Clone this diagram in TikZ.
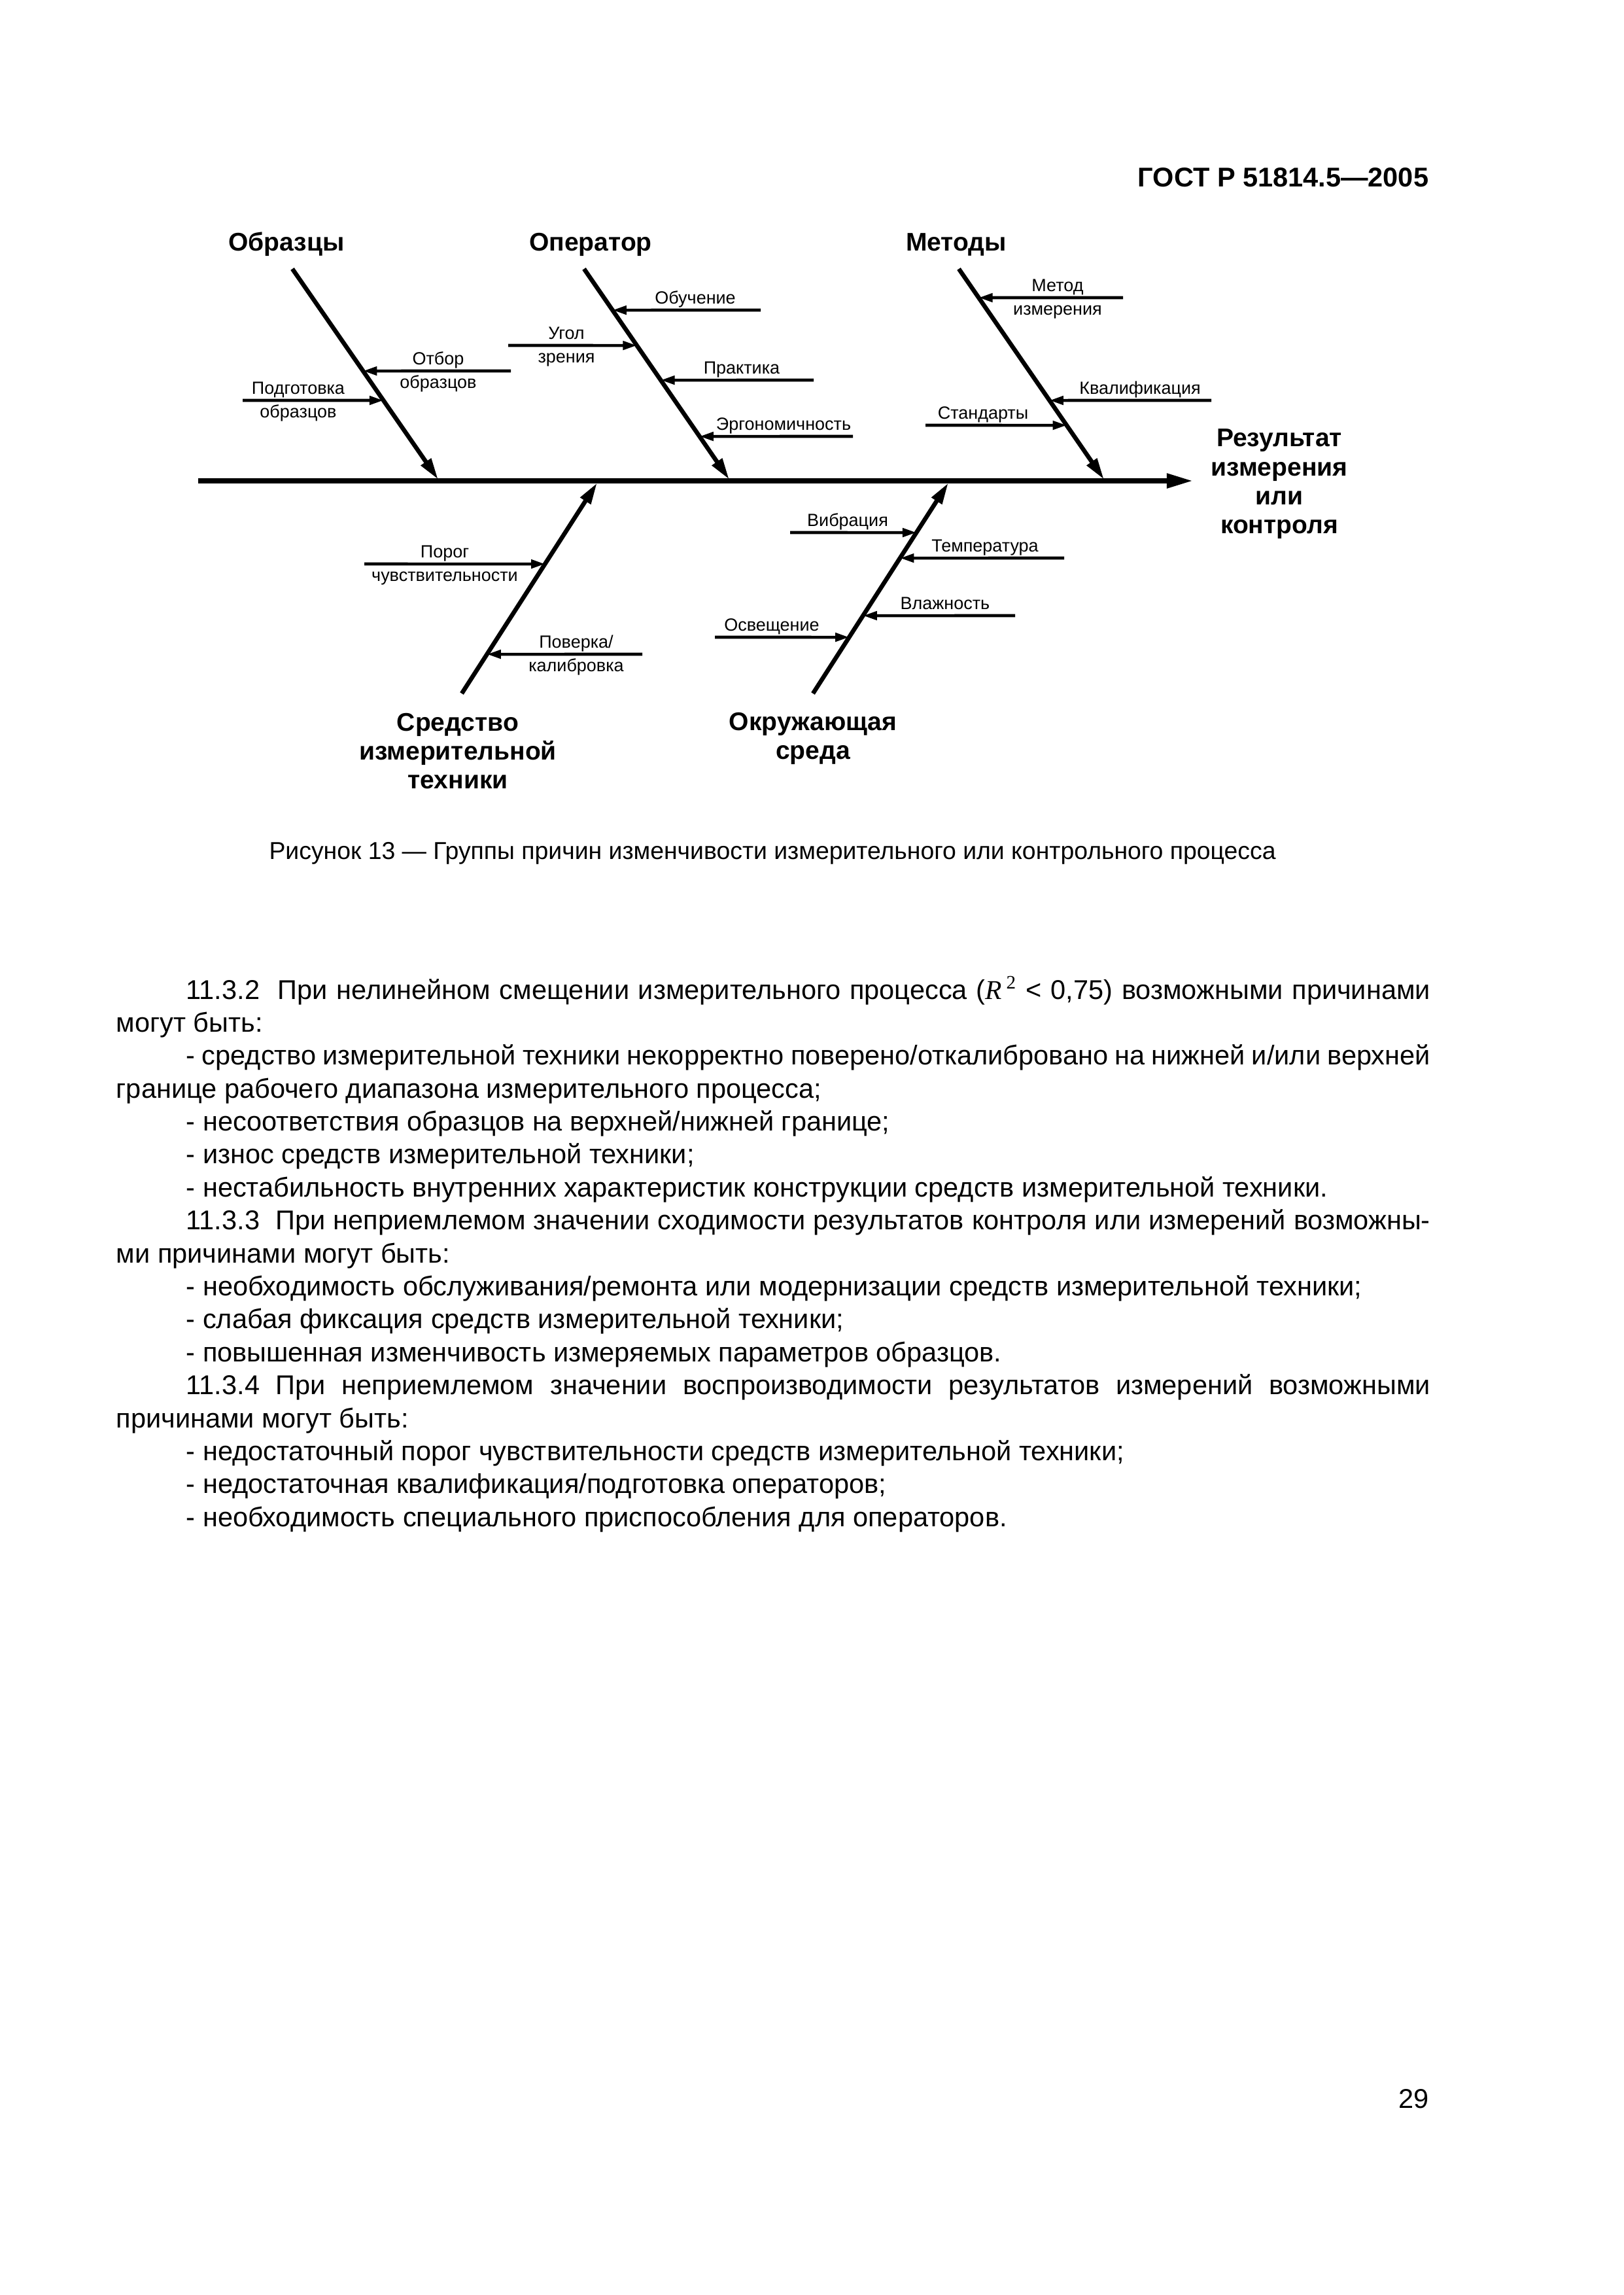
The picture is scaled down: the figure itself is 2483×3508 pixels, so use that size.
\documentclass[tikz,border=0pt]{standalone}
\usepackage{fontspec}
\setmainfont{Liberation Sans}
\newfontfamily\timesfont{Liberation Serif}
\usetikzlibrary{arrows.meta,calc}
\tikzset{
  spine/.style   = {line width=1.8pt, -{Triangle[length=3.4mm,width=1.8mm]}},
  bone/.style    = {line width=1.6pt, -{Triangle[length=2.8mm,width=1.5mm]}},
  rib/.style     = {line width=1.1pt, -{Triangle[length=1.8mm,width=1.1mm]}},
  group/.style   = {font=\fontsize{9.4}{10.7}\selectfont\bfseries, align=center, inner sep=0pt, anchor=north},
  grouph/.style  = {font=\fontsize{9.4}{10.7}\selectfont\bfseries, inner sep=0pt, anchor=base},
  cause/.style   = {font=\fontsize{6.5}{7.5}\selectfont, inner sep=0pt, anchor=base},
  pagehdr/.style = {font=\fontsize{10}{12}\selectfont\bfseries, inner sep=0pt, anchor=base east},
  capt/.style    = {font=\fontsize{9}{11}\selectfont, inner sep=0pt, anchor=base},
  bodytxt/.style = {font=\fontsize{10}{12.14}\selectfont, inner sep=0pt, anchor=base west},
}

\begin{document}
\begin{tikzpicture}[x=0.084667mm,y=-0.084667mm]
  % page
  \fill[white] (0,0) rectangle (2483,3508);
  \useasboundingbox (0,0) rectangle (2483,3508);
  \node[pagehdr] (hdr) at (2185,285) {ГОСТ Р 51814.5—2005};

  % spine and result
  \coordinate (sp-s) at (303,735);
  \coordinate (sp-e) at (1824,735);
  \draw[spine] (sp-s) -- (sp-e);
  \node[group] (res) at (1956,655) {Результат\\измерения\\или\\контроля};

  % bones
  \coordinate (obr-s) at (447,411);  \coordinate (obr-e) at (670,733);
  \coordinate (op-s)  at (893,411);  \coordinate (op-e)  at (1115,733);
  \coordinate (met-s) at (1466,411); \coordinate (met-e) at (1688,733);
  \coordinate (sit-s) at (706,1060); \coordinate (sit-e) at (913,738);
  \coordinate (env-s) at (1243,1060); \coordinate (env-e) at (1450,738);
  \foreach \b in {obr,op,met,sit,env} {
    \draw[bone] (\b-s) -- (\b-e);
  }
  \node[grouph] (obr) at (438,383) {Образцы};
  \node[grouph] (op)  at (903,383) {Оператор};
  \node[grouph] (met) at (1462,383) {Методы};
  \node[group] (sit) at (700,1089) {Средство\\измерительной\\техники};
  \node[group] (env) at (1243,1088) {Окружающая\\среда};

  % ribs: bone / y / tail x / name
  \foreach \b/\y/\t/\n in {obr/567/781/otbor, obr/612/371/podg,
      op/474/1163/obuch, op/528/777/ugol, op/581/1244/prakt, op/667/1304/ergo,
      met/455/1717/metod, met/612/1852/kval, met/650/1415/stand,
      sit/862/557/porog, sit/1000/982/pover,
      env/814/1208/vibr, env/853/1627/temp, env/941/1552/vlazh, env/974/1093/osv} {
    \coordinate (\n-tail) at (\t,\y);
    \coordinate (\n-tip) at (intersection of \b-s--\b-e and \n-tail--0,\y);
    \draw[rib] (\n-tail) -- (\n-tip);
  }

  % cause labels, one line
  \foreach \x/\y/\txt/\n in {1063/474/Обучение/obuch, 1134/581/Практика/prakt,
      1198/667/Эргономичность/ergo, 1743/612/Квалификация/kval, 1503/650/Стандарты/stand,
      1296/814/Вибрация/vibr, 1506/853/Температура/temp, 1445/941/Влажность/vlazh,
      1180/974/Освещение/osv} {
    \node[cause] (\n-lbl) at (\x,\y-10) {\txt};
  }
  % cause labels, two lines
  \foreach \x/\y/\ta/\tb/\n in {670/567/Отбор/образцов/otbor, 456/612/Подготовка/образцов/podg,
      866/528/Угол/зрения/ugol, 1617/455/Метод/измерения/metod,
      680/862/Порог/чувствительности/porog, 881/1000/{Поверка/}/калибровка/pover} {
    \node[cause] (\n-a) at (\x,\y-10) {\ta};
    \node[cause] (\n-b) at (\x,\y+26) {\tb};
  }

  % caption
  \node[capt] (cap) at (1181,1313) {Рисунок 13 — Группы причин изменчивости измерительного или контрольного процесса};

  % text
  \node[bodytxt] (body) at (177,1527) {\parbox[t]{170.1mm}{%
    \setlength{\parindent}{9.06mm}\hyphenpenalty=10000 \exhyphenpenalty=10000 \tolerance=9999
    11.3.2\ \ При нелинейном смещении измерительного процесса ({\timesfont\itshape R}\,\textsuperscript{\timesfont 2} < 0,75) возможными причинами\linebreak
    могут быть:\par
    - средство измерительной техники некорректно поверено/откалибровано на нижней и/или верхней\linebreak
    границе рабочего диапазона измерительного процесса;\par
    - несоответствия образцов на верхней/нижней границе;\par
    - износ средств измерительной техники;\par
    - нестабильность внутренних характеристик конструкции средств измерительной техники.\par
    11.3.3\ \ При неприемлемом значении сходимости результатов контроля или измерений возможны-\linebreak
    ми причинами могут быть:\par
    - необходимость обслуживания/ремонта или модернизации средств измерительной техники;\par
    - слабая фиксация средств измерительной техники;\par
    - повышенная изменчивость измеряемых параметров образцов.\par
    11.3.4 При неприемлемом значении воспроизводимости результатов измерений возможными\linebreak
    причинами могут быть:\par
    - недостаточный порог чувствительности средств измерительной техники;\par
    - недостаточная квалификация/подготовка операторов;\par
    - необходимость специального приспособления для операторов.}};

  % page number
  \node[pagehdr, font=\fontsize{10}{12}\selectfont] (pgno) at (2185,3222) {29};
\end{tikzpicture}
\end{document}
